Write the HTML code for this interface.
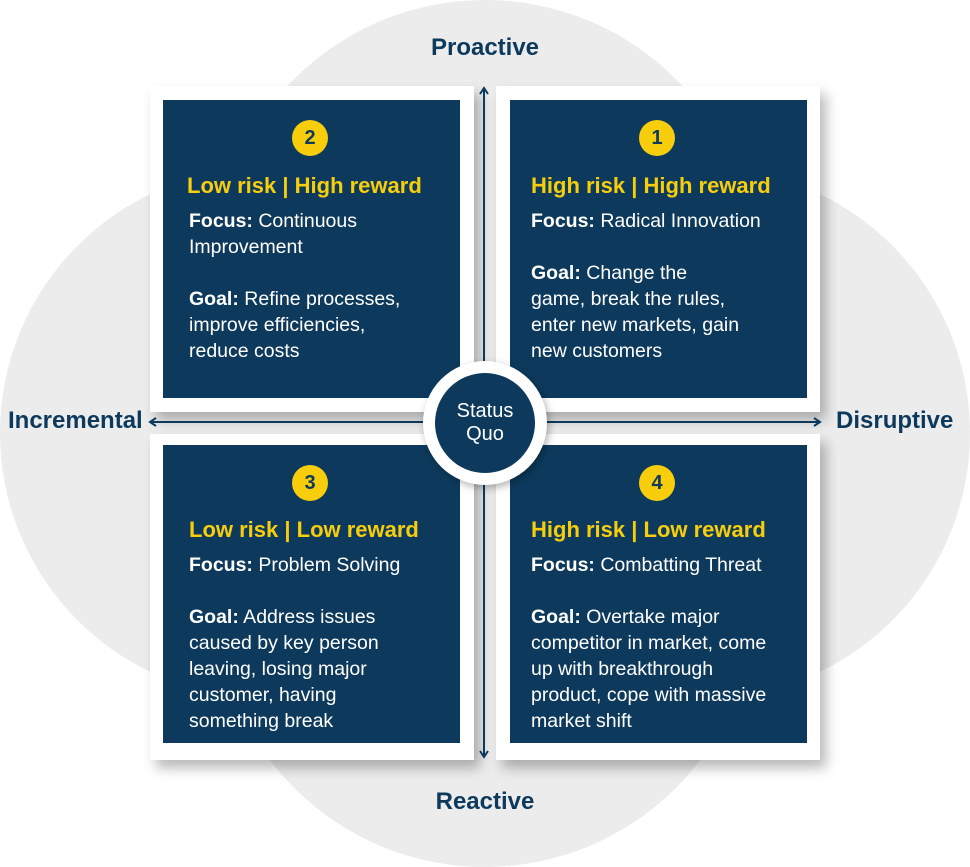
<!DOCTYPE html>
<html><head><meta charset="utf-8"><style>
body{margin:0;width:970px;height:867px;background:#fff;position:relative;overflow:hidden;font-family:"Liberation Sans",sans-serif}
.bg{position:absolute;border-radius:50%;background:#ececec}
.fr{position:absolute;background:#fff;width:324px;height:326px;box-shadow:6px 8px 12px rgba(0,0,0,.28)}
.bx{position:absolute;background:#0d3a5c;width:297px;height:298px;color:#fff}
.num{position:absolute;width:36px;height:36px;border-radius:50%;background:#f7cd0c;color:#0d3a5c;font-weight:bold;font-size:20px;line-height:36px;text-align:center}
.t{position:absolute;color:#f7cd0c;font-weight:bold;font-size:22px;white-space:nowrap;line-height:26px}
.b{position:absolute;font-size:19.5px;line-height:26px;white-space:nowrap}
.ax{position:absolute;color:#0d3a5c;font-size:24px;font-weight:bold;line-height:28px;white-space:nowrap}
</style></head><body>
<div class="bg" style="left:215px;top:0;width:540px;height:540px"></div>
<div class="bg" style="left:215px;top:327px;width:540px;height:540px"></div>
<div class="bg" style="left:0;top:168px;width:530px;height:530px"></div>
<div class="bg" style="left:440px;top:168px;width:530px;height:530px"></div>

<div class="fr" style="left:150px;top:86px"></div>
<div class="fr" style="left:496px;top:86px"></div>
<div class="fr" style="left:150px;top:434px"></div>
<div class="fr" style="left:496px;top:434px"></div>

<div class="bx" style="left:163px;top:100px">
<div class="num" style="left:129px;top:20px">2</div>
<div class="t" style="left:24px;top:73px">Low risk | High reward</div>
<div class="b" style="left:26px;top:108px"><b>Focus:</b> Continuous<br>Improvement<br><br><b>Goal:</b> Refine processes,<br>improve efficiencies,<br>reduce costs</div>
</div>
<div class="bx" style="left:510px;top:100px">
<div class="num" style="left:129px;top:20px">1</div>
<div class="t" style="left:21px;top:73px">High risk | High reward</div>
<div class="b" style="left:21px;top:108px"><b>Focus:</b> Radical Innovation<br><br><b>Goal:</b> Change the<br>game, break the rules,<br>enter new markets, gain<br>new customers</div>
</div>
<div class="bx" style="left:163px;top:445px">
<div class="num" style="left:129px;top:20px">3</div>
<div class="t" style="left:26px;top:72px">Low risk | Low reward</div>
<div class="b" style="left:26px;top:107px"><b>Focus:</b> Problem Solving<br><br><b>Goal:</b> Address issues<br>caused by key person<br>leaving, losing major<br>customer, having<br>something break</div>
</div>
<div class="bx" style="left:510px;top:445px">
<div class="num" style="left:129px;top:20px">4</div>
<div class="t" style="left:21px;top:72px">High risk | Low reward</div>
<div class="b" style="left:21px;top:107px"><b>Focus:</b> Combatting Threat<br><br><b>Goal:</b> Overtake major<br>competitor in market, come<br>up with breakthrough<br>product, cope with massive<br>market shift</div>
</div>

<svg style="position:absolute;left:0;top:0" width="970" height="867">
<g stroke="#0d3a5c" stroke-width="2" fill="none">
<line x1="150" y1="422" x2="820" y2="422"/>
<line x1="484" y1="88" x2="484" y2="757"/>
<polyline points="156,418 150,422 156,426"/>
<polyline points="814,418 820,422 814,426"/>
<polyline points="480,94 484,88 488,94"/>
<polyline points="480,751 484,757 488,751"/>
</g>
<circle cx="485" cy="423" r="62" fill="#fff" style="filter:drop-shadow(2px 3px 4px rgba(0,0,0,.3))"/>
<circle cx="485" cy="423" r="50" fill="#0d3a5c"/>
<text x="485" y="417" fill="#fff" font-family="Liberation Sans" font-size="20" text-anchor="middle">Status</text>
<text x="485" y="440" fill="#fff" font-family="Liberation Sans" font-size="20" text-anchor="middle">Quo</text>
</svg>

<div class="ax" style="left:385px;width:200px;text-align:center;top:34px">Proactive</div>
<div class="ax" style="left:385px;width:200px;text-align:center;top:788px">Reactive</div>
<div class="ax" style="left:8px;top:407px">Incremental</div>
<div class="ax" style="left:836px;top:407px">Disruptive</div>
</body></html>
